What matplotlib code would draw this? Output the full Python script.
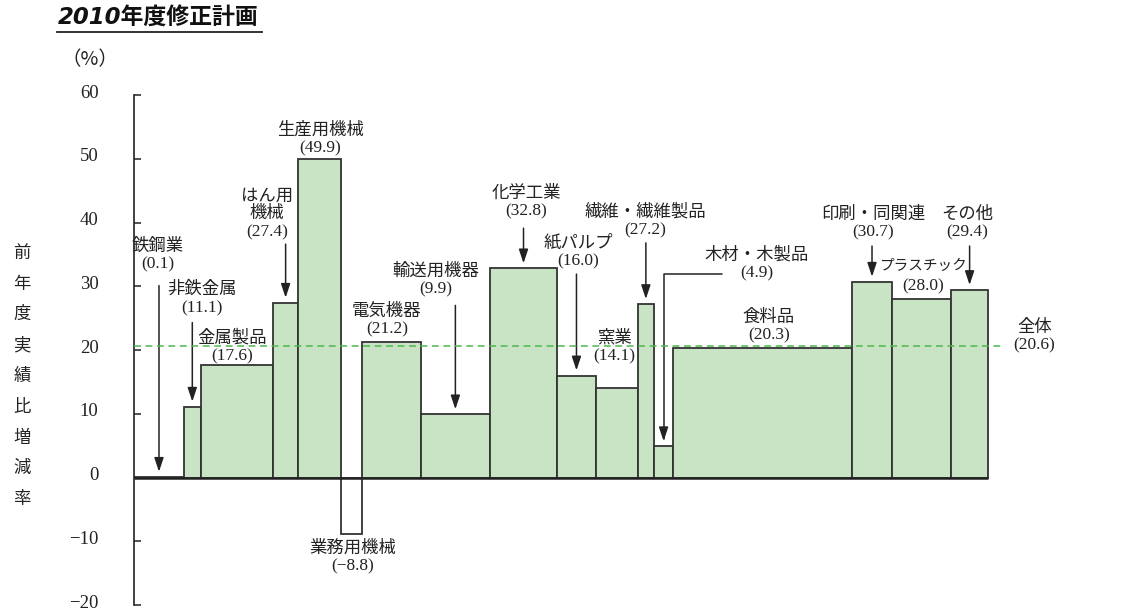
import numpy as np
import matplotlib.pyplot as plt
from matplotlib.lines import Line2D

plt.rcParams['font.family'] = ['Liberation Serif', 'Noto Sans CJK JP']

# 業種ごとのデータ（幅＝構成比, 高さ＝前年度実績比増減率）
industries = ['鉄鋼業', '非鉄金属', '金属製品', 'はん用\n機械', '生産用機械', '業務用機械',
              '電気機器', '輸送用機器', '化学工業', '紙パルプ', '窯業', '繊維・繊維製品',
              '木材・木製品', '食料品', '印刷・同関連', 'プラスチック', 'その他']
growth = [0.1, 11.1, 17.6, 27.4, 49.9, -8.8, 21.2, 9.9, 32.8, 16.0, 14.1, 27.2,
          4.9, 20.3, 30.7, 28.0, 29.4]
share = [5.85, 1.95, 8.5, 2.9, 5.0, 2.5, 6.9, 8.05, 7.9, 4.5, 4.9, 1.95,
         2.2, 21.0, 4.6, 7.0, 4.25]
total_growth = 20.6

# ラベルの位置（データ座標）と矢印の始点（None は矢印なし）
label_x = [2.8, 8.0, 11.5, 15.6, 21.8, 25.6, 29.6, 35.3, 45.9, 52.0, 56.2, 59.8,
           72.9, 74.3, 86.5, 92.4, 97.5]
label_y = [34.9, 28.0, 20.4, 41.3, 53.0, -12.5, 24.6, 30.9, 43.2, 35.4, 20.4, 40.2,
           33.4, 23.7, 39.9, 31.5, 39.9]
arrow_y = [30.1, 24.3, None, 36.6, None, None, None, 27.0, 39.1, 31.9, None, 36.8,
           31.9, None, 36.3, None, 36.3]

lefts = np.concatenate([[0], np.cumsum(share)[:-1]])
centers = lefts + np.array(share) / 2
end = lefts[-1] + share[-1]

fig = plt.figure(figsize=(11.47, 6.10), dpi=100)
ax = fig.add_axes([134/1147, 5/610, (1001-134)/1147, 510/610])

colors = ['white' if v < 0 else '#c9e3c5' for v in growth]
ax.bar(lefts, growth, width=share, align='edge', color=colors,
       edgecolor='#333333', linewidth=1.3, zorder=2)
ax.hlines(0, 0, end, color='#222222', lw=1.8, zorder=3)
ax.axhline(total_growth, color='#4cb84c', ls=(0, (4.5, 3)), lw=1.1, zorder=4)

ax.set_xlim(0, 101.5)
ax.set_ylim(-20, 60)
for s in ['top', 'right', 'bottom']:
    ax.spines[s].set_visible(False)
ax.spines['left'].set_linewidth(1.2)
ax.spines['left'].set_color('#222222')
ax.set_xticks([])
ticks = np.arange(-20, 61, 10)
ax.set_yticks(ticks)
ax.set_yticklabels([])
ax.tick_params(axis='y', direction='in', length=5, width=1.1, colors='#222222')
for t in ticks:
    ax.text(-0.041, t + 0.3, f'−{abs(t)}' if t < 0 else str(t),
            transform=ax.get_yaxis_transform(), ha='right', va='center',
            fontsize=13.5, color='#222222')

arrow_style = '-|>,head_length=0.6,head_width=0.2'
for i, name in enumerate(industries):
    v = growth[i]
    vs = f'(−{abs(v)})' if v < 0 else f'({v})'
    if name == 'プラスチック':
        ax.text(label_x[i], label_y[i] + 1.6, name, ha='center', va='center',
                fontsize=10.5, color='#222222')
        ax.text(label_x[i], label_y[i] - 1.6, vs, ha='center', va='center',
                fontsize=12.5, color='#222222')
    else:
        ax.text(label_x[i], label_y[i], f'{name}\n{vs}', ha='center', va='center',
                fontsize=12.5, linespacing=1.15, color='#222222')
    if arrow_y[i] is None:
        continue
    if name == '木材・木製品':
        ax.annotate('', xy=(centers[i], v + 0.8), xytext=(68.8, arrow_y[i]),
                    arrowprops=dict(arrowstyle=arrow_style, color='#222222', lw=1.1,
                                    mutation_scale=14, shrinkA=0, shrinkB=0,
                                    connectionstyle='angle,angleA=0,angleB=90,rad=0'))
    else:
        ax.annotate('', xy=(centers[i], v + 0.8), xytext=(centers[i], arrow_y[i]),
                    arrowprops=dict(arrowstyle=arrow_style, color='#222222', lw=1.1,
                                    mutation_scale=14, shrinkA=0, shrinkB=0))

ax.text(105.4, 22.1, '全体\n(20.6)', ha='center', va='center', fontsize=12.5,
        linespacing=1.15, color='#222222')

fig.text(58/1147, 1 - 18/610, '2010年度修正計画', ha='left', va='center',
         fontsize=16.5, fontweight='bold', style='italic',
         family=['DejaVu Sans', 'Noto Sans CJK JP'], color='#111111')
fig.add_artist(Line2D([57/1147, 262/1147], [1 - 32/610] * 2, color='#222222', lw=1.3))
fig.text(90/1147, 1 - 60/610, '（%）', ha='center', va='center', fontsize=14,
         family=['Noto Sans CJK JP'], color='#222222')
fig.text(22/1147, 1 - 377/610, '\n'.join('前年度実績比増減率'), ha='center', va='center',
         fontsize=12.5, linespacing=2.2, color='#222222')

fig.savefig('out.png', dpi=100)
